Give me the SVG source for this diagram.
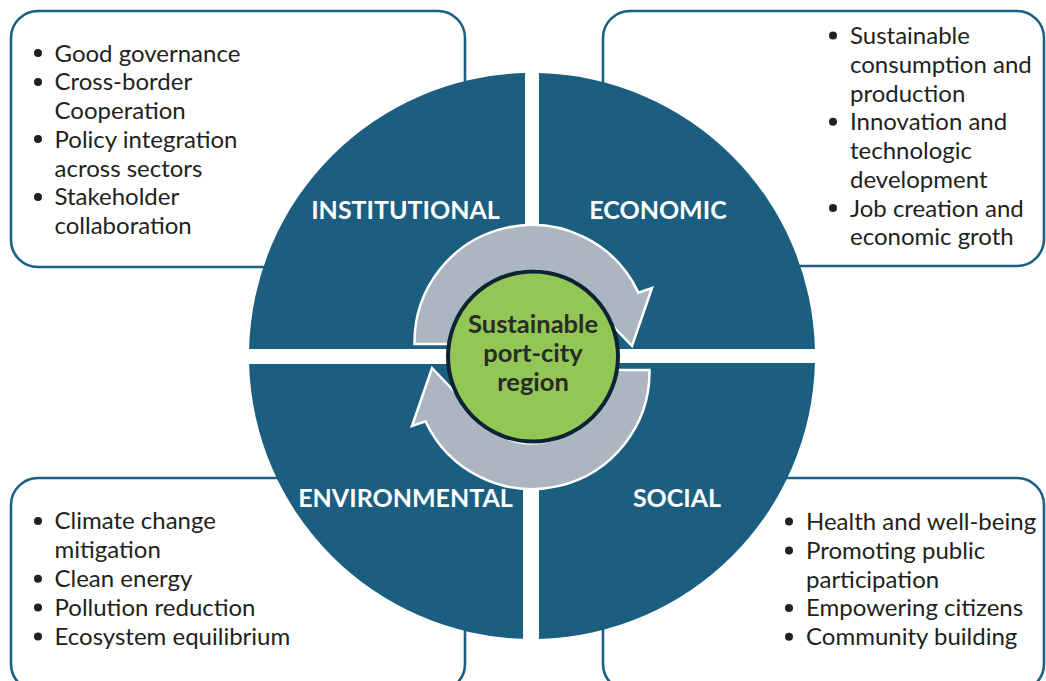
<svg xmlns="http://www.w3.org/2000/svg" width="1046" height="681" viewBox="0 0 1046 681">
  <style>
    .box { fill: #ffffff; stroke: #1c6184; stroke-width: 2.6; }
    .quad { fill: #1b5e7f; }
    .qlabel { font-family: "Lato", "Liberation Sans", sans-serif; font-weight: bold; font-size: 25px; fill: #ffffff; text-anchor: middle; }
    .item { font-family: "Lato", "Liberation Sans", sans-serif; font-size: 24px; fill: #231f20; }
    .bullet { fill: #231f20; }
    .arrow { fill: #abb6c0; stroke: #ffffff; stroke-width: 2.5; stroke-linejoin: miter; }
    .hub { fill: #92c755; stroke: #0c2333; stroke-width: 4; }
    .hubtext { font-family: "Lato", "Liberation Sans", sans-serif; font-weight: bold; font-size: 25.5px; fill: #2a2a2a; text-anchor: middle; }
  </style>
  <defs>
    <path id="arrowUp" d="M414.5,344 A117.5,117.5 0 0 1 638.5,292.8 L652,288 L632,346 L591,303 A70,70 0 0 0 462.1,344 Z"/>
  </defs>

  <!-- Text boxes (behind the circle) -->
  <g id="box-institutional">
    <rect class="box" x="11" y="11" width="454" height="256" rx="27" ry="27"/>
    <circle class="bullet" cx="38" cy="53" r="4"/>
    <circle class="bullet" cx="38" cy="82" r="4"/>
    <circle class="bullet" cx="38" cy="139" r="4"/>
    <circle class="bullet" cx="38" cy="197" r="4"/>
    <text class="item" x="54.5" y="61.5">Good governance</text>
    <text class="item" x="54.5" y="90.2">Cross-border</text>
    <text class="item" x="54.5" y="119">Cooperation</text>
    <text class="item" x="54.5" y="147.7">Policy integration</text>
    <text class="item" x="54.5" y="176.5">across sectors</text>
    <text class="item" x="54.5" y="205.2">Stakeholder</text>
    <text class="item" x="54.5" y="234">collaboration</text>
  </g>
  <g id="box-economic">
    <rect class="box" x="603" y="11" width="441" height="255" rx="27" ry="27"/>
    <circle class="bullet" cx="833" cy="35.6" r="4"/>
    <circle class="bullet" cx="833" cy="121.8" r="4"/>
    <circle class="bullet" cx="833" cy="208.1" r="4"/>
    <text class="item" x="850" y="44">Sustainable</text>
    <text class="item" x="850" y="72.7">consumption and</text>
    <text class="item" x="850" y="101.5">production</text>
    <text class="item" x="850" y="130.2">Innovation and</text>
    <text class="item" x="850" y="159">technologic</text>
    <text class="item" x="850" y="187.7">development</text>
    <text class="item" x="850" y="216.5">Job creation and</text>
    <text class="item" x="850" y="245.2">economic groth</text>
  </g>
  <g id="box-environmental">
    <rect class="box" x="11" y="478" width="454" height="213" rx="27" ry="27"/>
    <circle class="bullet" cx="38" cy="521" r="4"/>
    <circle class="bullet" cx="38" cy="578.7" r="4"/>
    <circle class="bullet" cx="38" cy="607.6" r="4"/>
    <circle class="bullet" cx="38" cy="636.6" r="4"/>
    <text class="item" x="54.5" y="529.3">Climate change</text>
    <text class="item" x="54.5" y="558.2">mitigation</text>
    <text class="item" x="54.5" y="587.1">Clean energy</text>
    <text class="item" x="54.5" y="616">Pollution reduction</text>
    <text class="item" x="54.5" y="645">Ecosystem equilibrium</text>
  </g>
  <g id="box-social">
    <rect class="box" x="603" y="478" width="441" height="213" rx="27" ry="27"/>
    <circle class="bullet" cx="789" cy="521.6" r="4"/>
    <circle class="bullet" cx="789" cy="550.4" r="4"/>
    <circle class="bullet" cx="789" cy="608" r="4"/>
    <circle class="bullet" cx="789" cy="636.8" r="4"/>
    <text class="item" x="806" y="530">Health and well-being</text>
    <text class="item" x="806" y="558.8">Promoting public</text>
    <text class="item" x="806" y="587.6">participation</text>
    <text class="item" x="806" y="616.4">Empowering citizens</text>
    <text class="item" x="806" y="645.2">Community building</text>
  </g>

  <!-- Quadrants -->
  <g id="quad-institutional">
    <path class="quad" d="M525,349 L525,73.09 A283,283 0 0 0 249.09,349 Z"/>
    <text class="qlabel" x="405.5" y="218.5">INSTITUTIONAL</text>
  </g>
  <g id="quad-economic">
    <path class="quad" d="M539,349 L539,73.09 A283,283 0 0 1 814.91,349 Z"/>
    <text class="qlabel" x="658" y="218.5">ECONOMIC</text>
  </g>
  <g id="quad-environmental">
    <path class="quad" d="M523,364 L249.11,364 A283,283 0 0 0 523,638.86 Z"/>
    <text class="qlabel" x="405.5" y="507">ENVIRONMENTAL</text>
  </g>
  <g id="quad-social">
    <path class="quad" d="M539,363 L814.91,363 A283,283 0 0 1 539,638.91 Z"/>
    <text class="qlabel" x="677" y="507">SOCIAL</text>
  </g>

  <!-- Cycle arrows -->
  <g id="connectors">
    <use href="#arrowUp" class="arrow"/>
    <use href="#arrowUp" class="arrow" transform="rotate(180 532 357)"/>
  </g>

  <!-- Hub -->
  <g id="hub">
    <circle class="hub" cx="533" cy="356.5" r="85"/>
    <text class="hubtext" x="533" y="333">Sustainable</text>
    <text class="hubtext" x="533" y="362">port-city</text>
    <text class="hubtext" x="533" y="390.5">region</text>
  </g>
</svg>
